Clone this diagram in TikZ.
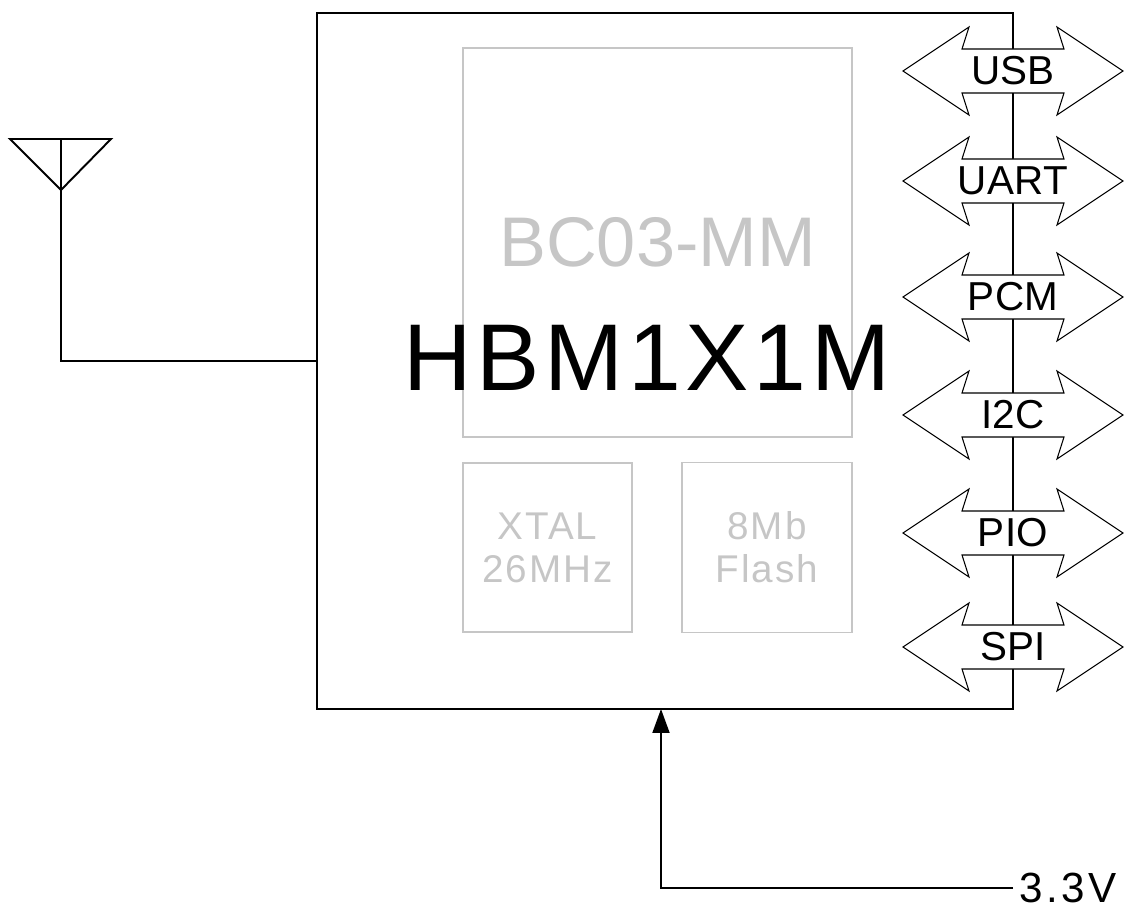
\documentclass[tikz,border=0pt]{standalone}
\usepackage{fontspec}
\setmainfont{Liberation Sans}
\usetikzlibrary{arrows.meta}

\definecolor{partgray}{RGB}{198,198,198}

% one double-headed bus arrow on the right edge of the module
\newcommand{\busport}[3]{%
  \draw[busarrow] (903,#2) -- (969,#2-44) -- (962,#2-22) -- (1064,#2-22) -- (1057,#2-44)
    -- (1123,#2) -- (1057,#2+44) -- (1064,#2+22) -- (962,#2+22) -- (969,#2+44) -- cycle;
  \node[buslabel] (#1) at (1013,#2) {#3};
}

\begin{document}
\begin{tikzpicture}[
    x=0.02cm, y=-0.02cm,
    modulebox/.style={draw, line width=1.1pt, inner sep=0pt, minimum width=13.92cm, minimum height=13.92cm},
    partbox/.style={draw=partgray, text=partgray, line width=1.1pt, inner sep=0pt, align=center},
    busarrow/.style={draw, fill=white, line width=0.6pt},
    buslabel/.style={inner sep=0pt, font=\fontsize{23}{26}\selectfont\addfontfeature{LetterSpace=1}},
    wire/.style={line width=1.1pt}
  ]
  \useasboundingbox (0,0) rectangle (1127,909);

  % module outline and the parts inside it
  \node[modulebox] (module) at (665,361) {};
  \node[partbox, minimum size=7.78cm, font=\fontsize{40}{44}\selectfont] (chip) at (657.5,242.5) {BC03-MM};
  \node[partbox, minimum size=3.38cm, font=\fontsize{22}{24.4}\selectfont\addfontfeature{LetterSpace=5}] (xtal) at (547.5,547.5) {XTAL\\26MHz};
  \node[partbox, minimum size=3.4cm, font=\fontsize{22}{24.4}\selectfont\addfontfeature{LetterSpace=5}] (flash) at (767,547.5) {8Mb\\Flash};
  \node[inner sep=0pt, font=\fontsize{54}{60}\selectfont\addfontfeature{LetterSpace=5}] (name) at (647,358) {HBM1X1M};

  % interfaces
  \foreach \port/\ypos/\txt in {usb/71/USB, uart/181/UART, pcm/297/PCM, i2c/415/I2C, pio/533/PIO, spi/647/SPI}
    \busport{\port}{\ypos}{\txt};

  % antenna
  \coordinate (ant) at (61,190);
  \draw[wire] (10,139) -- (111,139) -- (ant) -- cycle;
  \draw[wire] (61,139) -- (ant) |- (module.west);

  % supply
  \node[anchor=west, inner xsep=0.12cm, inner ysep=0pt, font=\fontsize{24}{28}\selectfont\addfontfeature{LetterSpace=8}] (vcc) at (1013,888) {3.3V};
  \coordinate (vin) at (661,709);
  \draw[wire, -{Triangle[width=0.34cm, length=0.48cm]}] (vcc.west) -| (vin);

\end{tikzpicture}
\end{document}
